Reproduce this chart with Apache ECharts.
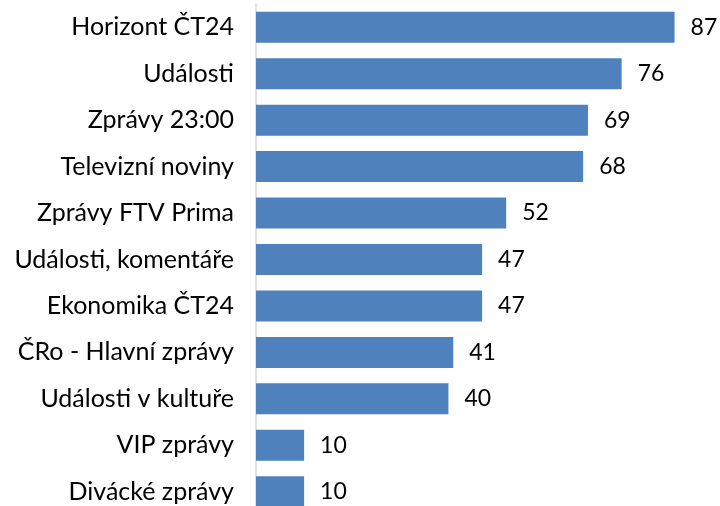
<!DOCTYPE html>
<html>
<head>
<meta charset="utf-8">
<script src="https://cdn.jsdelivr.net/npm/echarts@6/dist/echarts.min.js"></script>
<style>
  html,body{margin:0;padding:0;background:#fff;overflow:hidden;}
  #chart{width:720px;height:530px;}
</style>
</head>
<body>
<div id="chart"></div>
<script>
  // data
  const categories = [
    "Horizont ČT24","Události","Zprávy 23:00","Televizní noviny","Zprávy FTV Prima",
    "Události, komentáře","Ekonomika ČT24","ČRo - Hlavní zprávy","Události v kultuře",
    "VIP zprávy","Divácké zprávy"
  ];
  const values = [87,76,69,68,52,47,47,41,40,10,10];

  const FONT = 'Lato, "Open Sans", sans-serif';
  // chart is a bit taller than the window: the last bar is cut at the bottom like in the reference
  const chart = echarts.init(document.getElementById('chart'), null, {renderer:'canvas'});
  chart.setOption({
    animation:false,
    grid:{left:256, top:4, width:433, height:511},
    xAxis:{type:'value', min:0, max:90, show:false},
    yAxis:{
      type:'category', data:categories, inverse:true,
      axisLine:{show:true, lineStyle:{color:'#d9d9d9', width:1.5}},
      axisTick:{show:false},
      axisLabel:{color:'#000', fontSize:25, fontFamily:FONT, margin:22}
    },
    series:[{
      type:'bar', data:values, barWidth:31,
      itemStyle:{color:'#4f81bd'},
      label:{show:true, position:'right', distance:16, color:'#000', fontSize:23, fontFamily:FONT}
    }]
  });
</script>
</body>
</html>
